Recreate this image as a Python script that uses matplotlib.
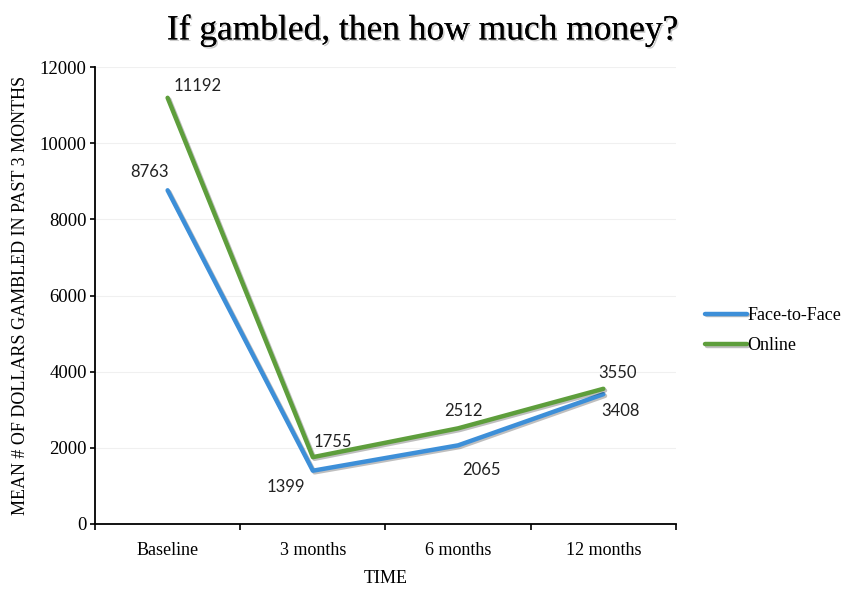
import matplotlib.pyplot as plt
import matplotlib.patheffects as pe

# Dades
time_points = ['Baseline', '3 months', '6 months', '12 months']
face_to_face = [8763, 1399, 2065, 3408]
online = [11192, 1755, 2512, 3550]

# Desplaçaments de les etiquetes (punts)
ftf_offsets = [(-13, 13), (-19.5, -11.5), (17, -18), (12, -12)]
onl_offsets = [(21.5, 8.5), (14.5, 11), (3.6, 12.5), (10, 11.5)]

serif = 'Liberation Serif'
blue = '#3d8fd8'
green = '#5e9e3c'
shadow = [pe.SimpleLineShadow(offset=(1.2, -1.2), alpha=0.25), pe.Normal()]

fig = plt.figure(figsize=(8.45, 5.89), dpi=100)
ax = fig.add_axes([0.1124, 0.1104, 0.6876, 0.7758])

x = list(range(len(time_points)))
ax.plot(x, face_to_face, color=blue, linewidth=3.2, label='Face-to-Face',
        solid_capstyle='round', zorder=3, path_effects=shadow)
ax.plot(x, online, color=green, linewidth=3.2, label='Online',
        solid_capstyle='round', zorder=3, path_effects=shadow)

for i in x:
    ax.annotate(str(face_to_face[i]), (i, face_to_face[i]), xytext=ftf_offsets[i],
                textcoords='offset points', ha='center', va='center',
                fontsize=12, family='Lato', color='#222222')
    ax.annotate(str(online[i]), (i, online[i]), xytext=onl_offsets[i],
                textcoords='offset points', ha='center', va='center',
                fontsize=12, family='Lato', color='#222222')

ax.set_xlim(-0.5, 3.5)
ax.set_ylim(0, 12000)
ax.set_yticks(range(0, 12001, 2000))
ax.set_xticks([-0.5, 0.5, 1.5, 2.5, 3.5])
ax.set_xticklabels([])
ax.set_xticks(x, minor=True)
ax.set_xticklabels(time_points, minor=True, fontsize=13, family=serif)
ax.tick_params(axis='x', which='minor', length=0, pad=13)
ax.tick_params(axis='x', which='major', length=4, direction='out', width=1.2)
ax.tick_params(axis='y', length=3.5, direction='out', width=1.2, labelsize=13.5, pad=2.5)
for lab in ax.get_yticklabels():
    lab.set_family(serif)

ax.grid(axis='y', color='#f0f0f0', linewidth=0.8)
ax.set_axisbelow(True)
for s in ['top', 'right']:
    ax.spines[s].set_visible(False)
for s in ['left', 'bottom']:
    ax.spines[s].set_linewidth(1.3)

ax.set_xlabel('TIME', fontsize=13, family=serif, labelpad=8)
ax.set_ylabel('MEAN # OF DOLLARS GAMBLED IN PAST 3 MONTHS', fontsize=13,
              family=serif, labelpad=8)

fig.text(0.5, 0.948, 'If gambled, then how much money?', ha='center', va='center',
         fontsize=25.5, family=serif,
         path_effects=[pe.withSimplePatchShadow(offset=(1.2, -1.2), alpha=0.2),
                       pe.Normal()])

ax.legend(loc='center left', bbox_to_anchor=(1.05, 0.423), frameon=False,
          prop={'family': serif, 'size': 13}, handlelength=2.3,
          handletextpad=0.05, labelspacing=0.75, borderaxespad=0, borderpad=0)

fig.savefig('out.png', dpi=100)
